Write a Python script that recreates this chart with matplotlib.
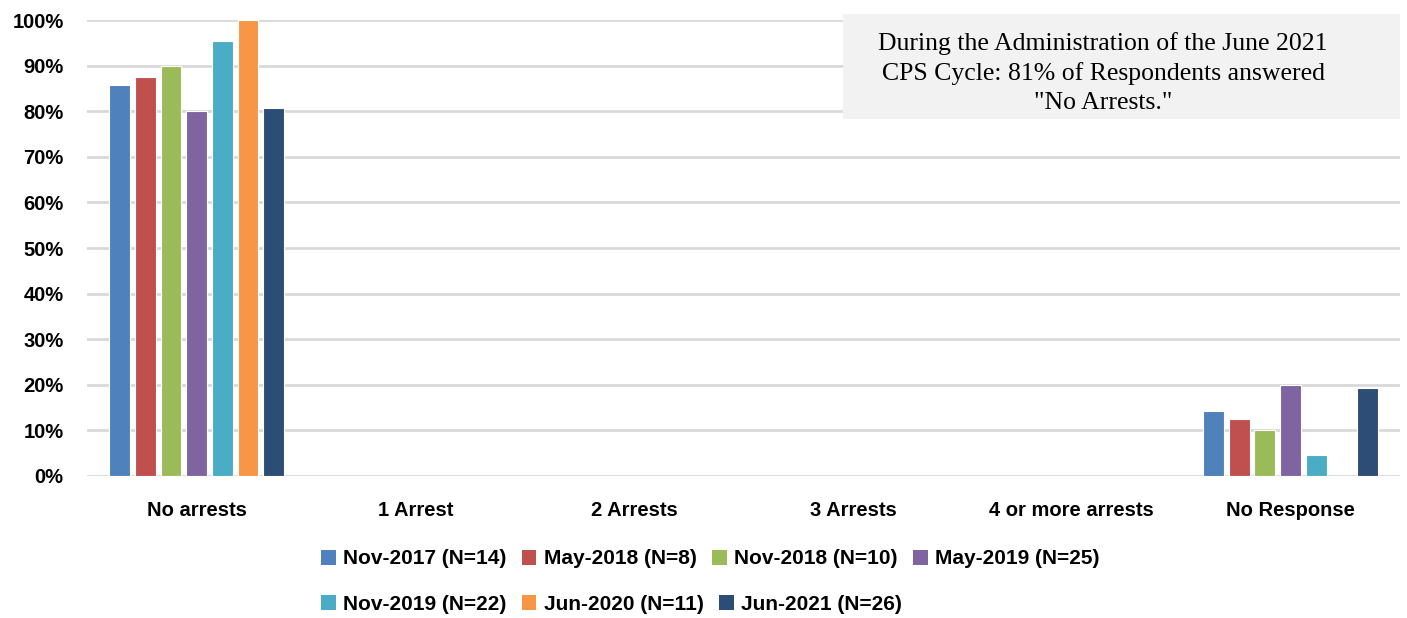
import matplotlib.pyplot as plt
import numpy as np
from matplotlib.patches import Patch
from matplotlib.ticker import PercentFormatter

# categories and series (percent of respondents)
categories = ['No arrests', '1 Arrest', '2 Arrests', '3 Arrests', '4 or more arrests', 'No Response']
series_names = ['Nov-2017 (N=14)', 'May-2018 (N=8)', 'Nov-2018 (N=10)', 'May-2019 (N=25)',
                'Nov-2019 (N=22)', 'Jun-2020 (N=11)', 'Jun-2021 (N=26)']
nov2017 = [85.7, 0, 0, 0, 0, 14.3]
may2018 = [87.5, 0, 0, 0, 0, 12.5]
nov2018 = [90.0, 0, 0, 0, 0, 10.0]
may2019 = [80.0, 0, 0, 0, 0, 20.0]
nov2019 = [95.5, 0, 0, 0, 0, 4.5]
jun2020 = [100.0, 0, 0, 0, 0, 0]
jun2021 = [80.8, 0, 0, 0, 0, 19.2]
colors = ['#4f81bd', '#c0504d', '#9bbb59', '#8064a2', '#4bacc6', '#f79646', '#2c4d75']

all_series = [nov2017, may2018, nov2018, may2019, nov2019, jun2020, jun2021]

plt.rcParams['font.family'] = ['Liberation Sans', 'DejaVu Sans']

fig = plt.figure(figsize=(14.07, 6.18), dpi=100)
ax = fig.add_axes([0.062, 0.2298, 0.933, 0.7378])

x = np.arange(len(categories))
pitch = 0.1175
width = 0.095
for i, (vals, c) in enumerate(zip(all_series, colors)):
    offs = (i - 3) * pitch
    ax.bar(x + offs, vals, width, color=c, edgecolor='white', linewidth=0.8, zorder=3)

ax.set_xlim(-0.5, len(categories) - 0.5)
ax.set_ylim(0, 100)
ax.set_yticks(np.arange(0, 101, 10))
ax.yaxis.set_major_formatter(PercentFormatter(decimals=0))
ax.set_xticks(x)
ax.set_xticklabels(categories)
ax.grid(axis='y', color='#d9d9d9', linewidth=2, zorder=0)
for s in ax.spines.values():
    s.set_visible(False)
ax.tick_params(length=0)
ax.tick_params(axis='y', pad=17)
ax.tick_params(axis='x', pad=18)
for lab in ax.get_xticklabels() + ax.get_yticklabels():
    lab.set_fontsize(14.5)
    lab.set_fontweight('bold')

# annotation box
fig.patches.append(plt.Rectangle((843 / 1407, 1 - 119 / 618), 557 / 1407, 105 / 618,
                                 transform=fig.transFigure, facecolor='#f2f2f2',
                                 edgecolor='none', zorder=5))
fig.text(1103 / 1407, 1 - 73 / 618,
         'During the Administration of the June 2021\nCPS Cycle: 81% of Respondents answered\n"No Arrests."',
         family='Liberation Serif', fontsize=18.5, ha='center', va='center',
         linespacing=1.38, zorder=6)

# legend, two rows left aligned
handles = [Patch(facecolor=c, edgecolor='none') for c in colors]
leg_kw = dict(frameon=False, handlelength=0.7, handleheight=0.7, handletextpad=0.35,
              columnspacing=0.75, borderaxespad=0, borderpad=0,
              prop={'size': 15, 'weight': 'bold'})
leg1 = fig.legend(handles[:4], series_names[:4], ncol=4, loc='center left',
                  bbox_to_anchor=(321 / 1407, 1 - 559 / 618), **leg_kw)
leg2 = fig.legend(handles[4:], series_names[4:], ncol=3, loc='center left',
                  bbox_to_anchor=(321 / 1407, 1 - 604 / 618), **leg_kw)

fig.savefig('out.png', dpi=100)
